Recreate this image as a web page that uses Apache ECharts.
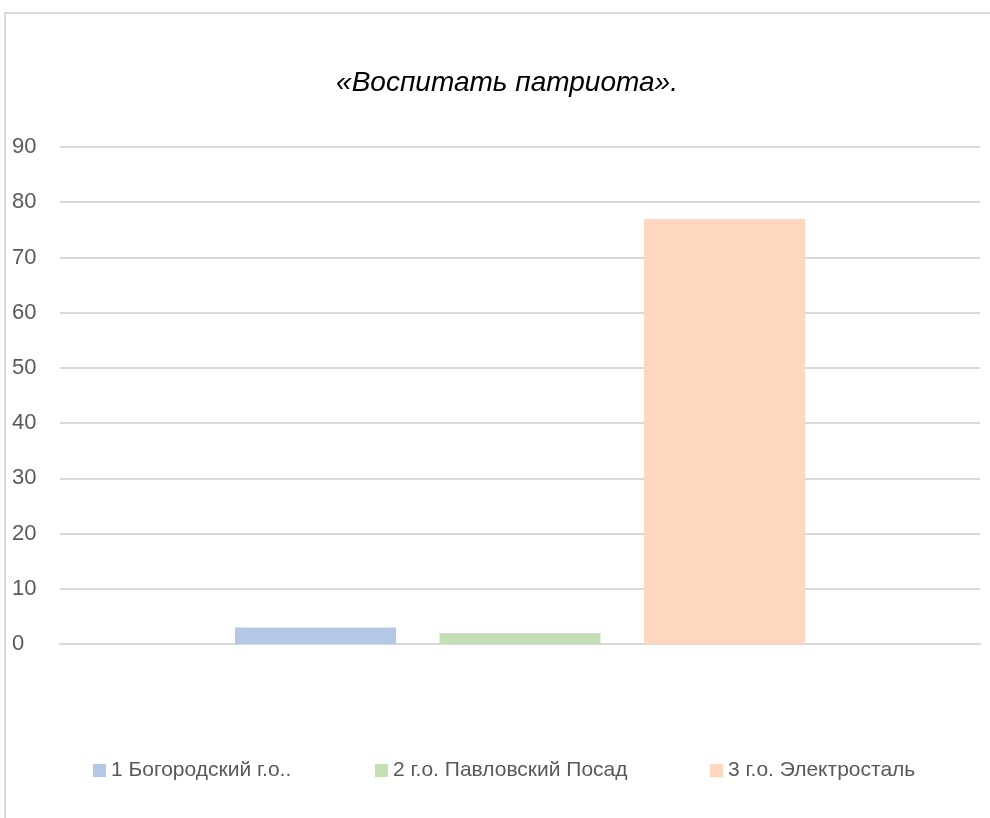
<!DOCTYPE html>
<html>
<head>
<meta charset="utf-8">
<script src="https://cdn.jsdelivr.net/npm/echarts@6/dist/echarts.min.js"></script>
<style>
  html, body { margin: 0; padding: 0; background: #fff; }
  #chart { width: 990px; height: 818px; }
</style>
</head>
<body>
<div id="chart"></div>
<script>
const titleText = '«Воспитать патриота».';
const categories = [''];
const seriesNames = ['1 Богородский г.о..', '2 г.о. Павловский Посад', '3 г.о. Электросталь'];
const seriesValues = [[3], [2], [77]];
const seriesColors = ['#b4c7e7', '#c5e0b4', '#ffd7bf'];
const yTicks = { min: 0, max: 90, interval: 10 };
const legendLefts = [88, 370, 705];

const chart = echarts.init(document.getElementById('chart'));

const series = seriesNames.map((name, i) => ({
  name: name,
  type: 'bar',
  data: seriesValues[i],
  barWidth: 161,
  barGap: '27%',
  itemStyle: { color: seriesColors[i] }
}));

// one legend per item so each sits where the original puts it
const legends = seriesNames.map((name, i) => ({
  top: 755,
  left: legendLefts[i],
  itemWidth: 13,
  itemHeight: 13,
  itemGap: 6,
  icon: 'rect',
  textStyle: { fontFamily: 'Liberation Sans', fontSize: 21, color: '#595959' },
  data: [name]
}));

chart.setOption({
  animation: false,
  graphic: [{
    type: 'rect',
    shape: { x: 5, y: 13, width: 1000, height: 820 },
    style: { fill: 'none', stroke: '#d9d9d9', lineWidth: 2 },
    silent: true
  }],
  title: {
    text: titleText,
    left: 502,
    top: 64,
    textAlign: 'center',
    textStyle: {
      fontFamily: 'Liberation Sans',
      fontStyle: 'italic',
      fontWeight: 'normal',
      fontSize: 28,
      color: '#000'
    }
  },
  legend: legends,
  grid: { left: 60, right: 10, top: 147, bottom: 174, containLabel: false },
  xAxis: {
    type: 'category',
    data: categories,
    axisLine: { lineStyle: { color: '#d9d9d9', width: 2 } },
    axisTick: { show: false },
    axisLabel: { show: false }
  },
  yAxis: {
    type: 'value',
    min: yTicks.min,
    max: yTicks.max,
    interval: yTicks.interval,
    axisLine: { show: false },
    axisTick: { show: false },
    axisLabel: {
      align: 'left',
      margin: 48,
      fontFamily: 'Liberation Sans',
      fontSize: 22,
      color: '#595959'
    },
    splitLine: { lineStyle: { color: '#d9d9d9', width: 2 } }
  },
  series: series
});
</script>
</body>
</html>
